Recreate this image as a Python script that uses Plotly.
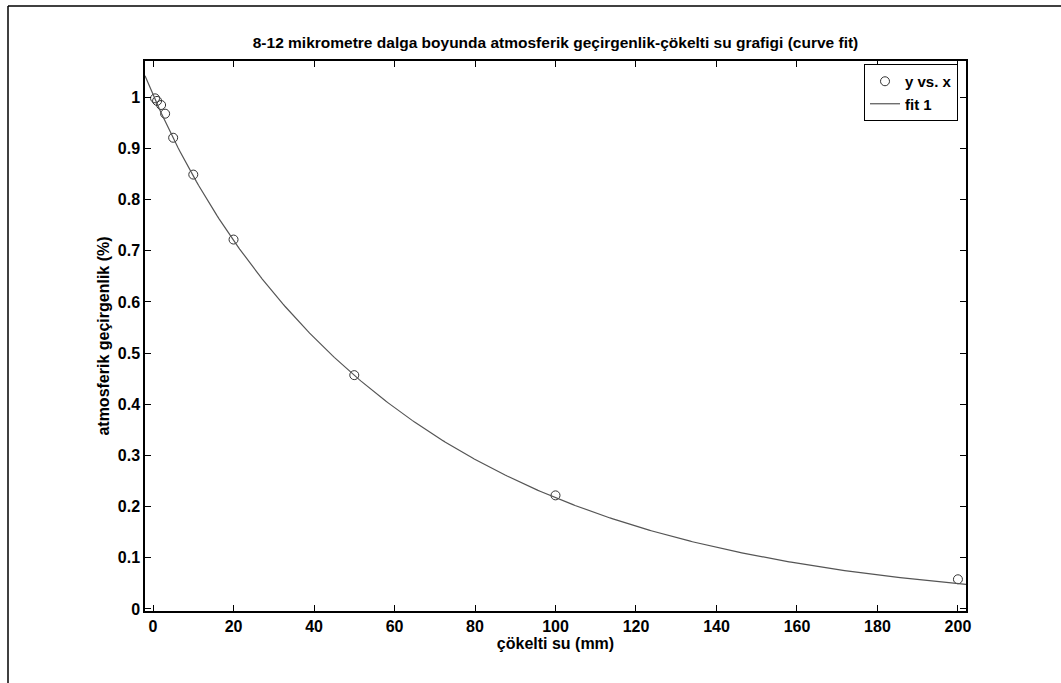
import numpy as np
import plotly.graph_objects as go

# data
x_data = [0.5, 1, 2, 3, 5, 10, 20, 50, 100, 200]
y_data = [0.998, 0.993, 0.985, 0.968, 0.921, 0.849, 0.722, 0.457, 0.222, 0.058]

# fitted model "fit 1": y = a*exp(b*x) + c*exp(d*x)
fit_a = 0.955
fit_b = -0.0148
fit_c = 0.05
fit_d = -0.08
fit_x = np.linspace(-2, 202, 400)
fit_y = fit_a * np.exp(fit_b * fit_x) + fit_c * np.exp(fit_d * fit_x)

x_ticks = [0, 20, 40, 60, 80, 100, 120, 140, 160, 180, 200]
y_ticks = [0, 0.1, 0.2, 0.3, 0.4, 0.5, 0.6, 0.7, 0.8, 0.9, 1]
y_ticklabels = ["0", "0.1", "0.2", "0.3", "0.4", "0.5", "0.6", "0.7", "0.8", "0.9", "1"]

title_text = "8-12 mikrometre dalga boyunda atmosferik geçirgenlik-çökelti su grafigi (curve fit)"
x_label = "çökelti su (mm)"
y_label = "atmosferik geçirgenlik (%)"

W, H = 1061, 683
L, R, T, B = 145, 966, 61, 611
FONT = "Arial, Liberation Sans"

fig = go.Figure()
fig.add_trace(go.Scatter(
    x=x_data, y=y_data, mode="markers", name="<b>y vs. x</b>",
    marker=dict(symbol="circle-open", size=9, color="#333333", line=dict(width=1, color="#333333")),
))
fig.add_trace(go.Scatter(
    x=fit_x, y=fit_y, mode="lines", name="<b>fit 1</b>",
    line=dict(color="#555555", width=1.2),
))

axis_common = dict(
    showline=True, linecolor="black", linewidth=1.5, mirror="ticks",
    ticks="inside", ticklen=6, tickcolor="black", tickwidth=1.2,
    showgrid=False, zeroline=False,
    tickfont=dict(family=FONT, size=16, color="black", weight="bold"),
)

fig.update_layout(
    width=W, height=H,
    paper_bgcolor="white", plot_bgcolor="white",
    margin=dict(l=L, r=W - R, t=T, b=H - B),
    title=dict(text="<b>" + title_text + "</b>", x=(L + R) / 2 / W, xanchor="center",
               y=1 - 43 / H, yanchor="middle",
               font=dict(family=FONT, size=15.5, color="black")),
    xaxis=dict(range=[-2, 202], tickvals=x_ticks, ticktext=[str(v) for v in x_ticks],
               title=dict(text="<b>" + x_label + "</b>", standoff=4,
                          font=dict(family=FONT, size=16, color="black")),
               **axis_common),
    yaxis=dict(range=[-0.004, 1.071], tickvals=y_ticks, ticktext=y_ticklabels,
               title=dict(text="<b>" + y_label + "</b>", standoff=4,
                          font=dict(family=FONT, size=16, color="black")),
               **axis_common),
    legend=dict(x=(958 - L) / (R - L), xanchor="right", y=(B - 64) / (B - T), yanchor="top",
                bgcolor="white", bordercolor="black", borderwidth=1,
                font=dict(family=FONT, size=15, color="black"),
                tracegroupgap=0, itemwidth=30),
    showlegend=True,
)

# outer frame of the scanned figure
pw, ph = R - L, B - T
def px(v):
    return (v - L) / pw
def py(v):
    return (B - v) / ph
fig.add_shape(type="line", xref="paper", yref="paper", x0=px(8), x1=px(1061), y0=py(6), y1=py(6),
              line=dict(color="black", width=1.5))
fig.add_shape(type="line", xref="paper", yref="paper", x0=px(8), x1=px(8), y0=py(6), y1=py(683),
              line=dict(color="black", width=1.5))

fig.write_html("out.html")
